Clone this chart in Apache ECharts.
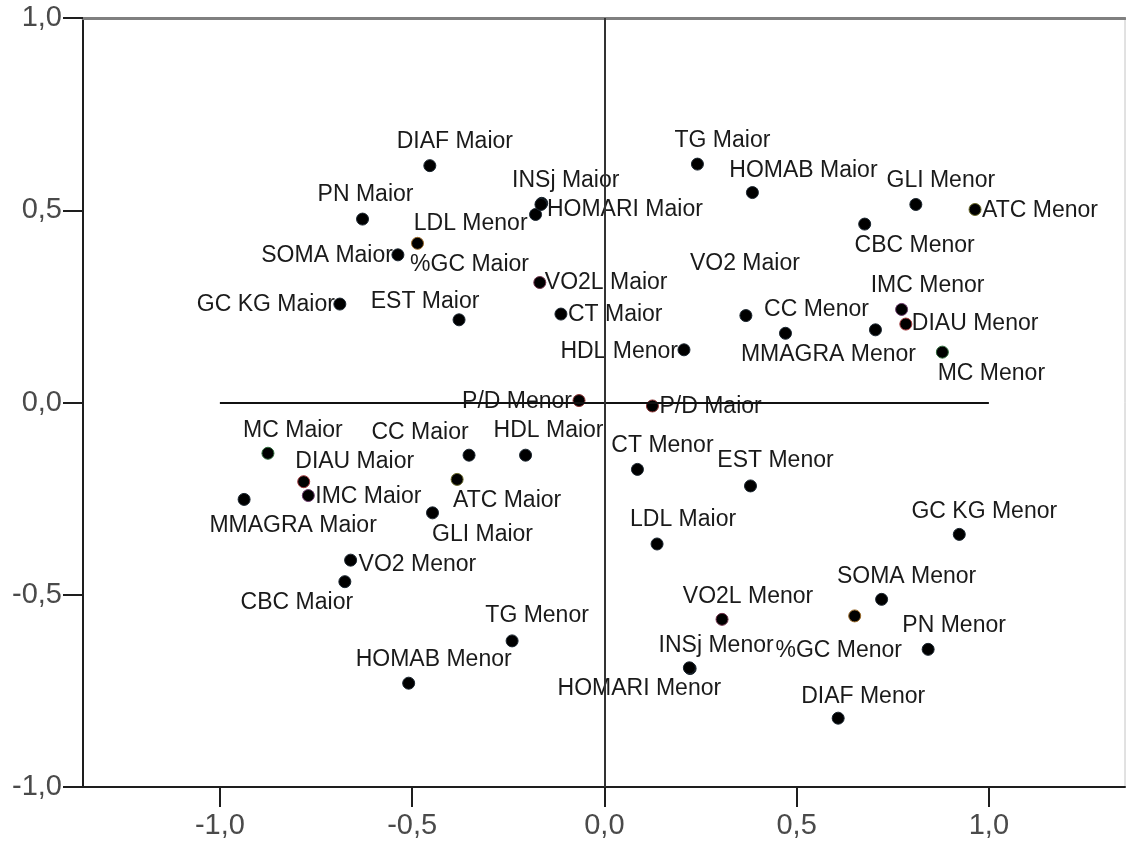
<!DOCTYPE html>
<html>
<head>
<meta charset="utf-8">
<title>Mapa de correspondência</title>
<script src="https://cdn.jsdelivr.net/npm/echarts@6.0.0/dist/echarts.min.js"></script>
<style>
  html, body { margin: 0; padding: 0; background: #fff; }
  #chart { width: 1126px; height: 844px; }
</style>
</head>
<body>
<div id="chart"></div>
<script>
// dados (dimensão 1 x dimensão 2)
const pointNames = [
  'DIAF Maior', 'PN Maior', 'SOMA Maior', '%GC Maior', 'LDL Menor', 'INSj Maior',
  'HOMARI Maior', 'VO2L Maior', 'EST Maior', 'CT Maior', 'HDL Menor', 'TG Maior',
  'HOMAB Maior', 'VO2 Maior', 'CC Menor', 'MMAGRA Menor', 'GLI Menor', 'ATC Menor',
  'CBC Menor', 'IMC Menor', 'DIAU Menor', 'MC Menor', 'GC KG Maior', 'P/D Menor',
  'P/D Maior', 'MC Maior', 'DIAU Maior', 'IMC Maior', 'MMAGRA Maior', 'VO2 Menor',
  'CBC Maior', 'CC Maior', 'HDL Maior', 'ATC Maior', 'GLI Maior', 'TG Menor',
  'HOMAB Menor', 'CT Menor', 'EST Menor', 'LDL Maior', 'VO2L Menor', 'INSj Menor',
  'HOMARI Menor', '%GC Menor', 'SOMA Menor', 'PN Menor', 'GC KG Menor', 'DIAF Menor'
]
const xValues = [
  -0.454, -0.629, -0.537, -0.486, -0.179, -0.163,
  -0.165, -0.168, -0.378, -0.113, 0.207, 0.242,
  0.385, 0.368, 0.471, 0.705, 0.810, 0.964,
  0.677, 0.773, 0.784, 0.879, -0.688, -0.066,
  0.125, -0.875, -0.782, -0.770, -0.937, -0.660,
  -0.675, -0.352, -0.205, -0.383, -0.447, -0.240,
  -0.509, 0.086, 0.380, 0.137, 0.306, 0.223,
  0.221, 0.651, 0.721, 0.842, 0.923, 0.608
]
const yValues = [
  0.616, 0.477, 0.384, 0.414, 0.489, 0.518,
  0.515, 0.312, 0.215, 0.230, 0.137, 0.620,
  0.546, 0.226, 0.180, 0.189, 0.515, 0.502,
  0.464, 0.242, 0.204, 0.131, 0.256, 0.005,
  -0.009, -0.132, -0.206, -0.242, -0.252, -0.410,
  -0.466, -0.137, -0.137, -0.200, -0.287, -0.620,
  -0.730, -0.174, -0.217, -0.368, -0.564, -0.692,
  -0.690, -0.555, -0.512, -0.642, -0.343, -0.821
]
const tickValues = [-1, -0.5, 0, 0.5, 1]
// linhas de referência: [x1, y1, x2, y2]
const refLines = [[-1, 0, 1, 0], [0, -1, 0, 1]]

// onde o rótulo fica em relação ao ponto: [dx, dy, alinhamento]
const labelPlace = {
  'DIAF Maior': [25, -24, 'center'],
  'PN Maior': [3, -24, 'center'],
  'SOMA Maior': [-5, 1, 'right'],
  '%GC Maior': [52, 21, 'center'],
  'LDL Menor': [-8, 9, 'right'],
  'INSj Maior': [24, -23, 'center'],
  'HOMARI Maior': [6, 5, 'left'],
  'VO2L Maior': [5, 0, 'left'],
  'EST Maior': [-34, -18, 'center'],
  'CT Maior': [7, 1, 'left'],
  'HDL Menor': [-6, 2, 'right'],
  'TG Maior': [25, -23, 'center'],
  'HOMAB Maior': [51, -22, 'center'],
  'VO2 Maior': [-1, -52, 'center'],
  'CC Menor': [31, -24, 'center'],
  'MMAGRA Menor': [-47, 25, 'center'],
  'GLI Menor': [25, -24, 'center'],
  'ATC Menor': [7, 1, 'left'],
  'CBC Menor': [50, 22, 'center'],
  'IMC Menor': [26, -24, 'center'],
  'DIAU Menor': [6, 0, 'left'],
  'MC Menor': [49, 22, 'center'],
  'GC KG Maior': [-5, 1, 'right'],
  'P/D Menor': [-7, 1, 'right'],
  'P/D Maior': [7, 1, 'left'],
  'MC Maior': [25, -23, 'center'],
  'DIAU Maior': [51, -20, 'center'],
  'IMC Maior': [7, 1, 'left'],
  'MMAGRA Maior': [49, 26, 'center'],
  'VO2 Menor': [8, 5, 'left'],
  'CBC Maior': [-48, 21, 'center'],
  'CC Maior': [-49, -23, 'center'],
  'HDL Maior': [23, -25, 'center'],
  'ATC Maior': [50, 21, 'center'],
  'GLI Maior': [50, 22, 'center'],
  'TG Menor': [25, -25, 'center'],
  'HOMAB Menor': [25, -24, 'center'],
  'CT Menor': [25, -24, 'center'],
  'EST Menor': [25, -25, 'center'],
  'LDL Maior': [26, -24, 'center'],
  'VO2L Menor': [26, -23, 'center'],
  'INSj Menor': [26, -23, 'center'],
  'HOMARI Menor': [-50, 21, 'center'],
  '%GC Menor': [-16, 35, 'center'],
  'SOMA Menor': [25, -23, 'center'],
  'PN Menor': [26, -24, 'center'],
  'GC KG Menor': [25, -23, 'center'],
  'DIAF Menor': [25, -22, 'center']
}

// contorno fraco colorido de alguns pontos
const ringColor = {
  '%GC': '#9a6a2a', 'DIAU': '#a0353a', 'MC': '#2f6a3a', 'IMC': '#6a3a6a',
  'ATC': '#6a6a2a', 'VO2L': '#70304a', 'P/D': '#8a3030'
}

const FONT = "'Liberation Sans', Arial, sans-serif"
const fmt = (v) => v.toFixed(1).replace('.', ',')

const points = pointNames.map((name, i) => {
  const p = labelPlace[name] || [0, -20, 'center']
  const variable = name.replace(/ (Maior|Menor)$/, '')
  return {
    name: name,
    value: [xValues[i], yValues[i]],
    itemStyle: { borderColor: ringColor[variable] || '#1b2630' },
    label: { offset: [p[0], p[1]], align: p[2] }
  }
})

const chart = echarts.init(document.getElementById('chart'))

chart.setOption({
  animation: false,
  grid: {
    left: 83, right: 1, top: 18, bottom: 57,
    show: true, borderColor: '#c4c4c4', borderWidth: 1, backgroundColor: '#fff'
  },
  xAxis: [
    {
      type: 'value',
      min: -1.356,
      max: 1.354,
      splitLine: { show: false },
      axisLine: { onZero: false, lineStyle: { color: '#1e1e1e', width: 2 } },
      axisTick: { show: true, length: 20, customValues: tickValues, lineStyle: { color: '#1e1e1e', width: 2 } },
      axisLabel: {
        customValues: tickValues,
        margin: 24,
        fontSize: 29,
        fontFamily: FONT,
        color: '#4a4a4a',
        formatter: fmt
      }
    },
    {
      // só a borda superior, cinza
      type: 'value',
      position: 'top',
      min: -1.356,
      max: 1.354,
      splitLine: { show: false },
      axisLine: { show: true, onZero: false, lineStyle: { color: '#808080', width: 3 } },
      axisTick: { show: false },
      axisLabel: { show: false }
    }
  ],
  yAxis: {
    type: 'value',
    min: -1,
    max: 1,
    interval: 0.5,
    splitLine: { show: false },
    axisLine: { onZero: false, lineStyle: { color: '#1e1e1e', width: 2 } },
    axisTick: { length: 20, lineStyle: { color: '#1e1e1e', width: 2 } },
    axisLabel: {
      margin: 21,
      fontSize: 29,
      fontFamily: FONT,
      color: '#4a4a4a',
      formatter: fmt
    }
  },
  series: [
    {
      type: 'scatter',
      symbolSize: 12,
      data: [],
      z: 1,
      markLine: {
        silent: true,
        symbol: 'none',
        label: { show: false },
        lineStyle: { type: 'solid', width: 2 },
        data: refLines.map((l, i) => [
          { coord: [l[0], l[1]], lineStyle: { color: i === 0 ? '#111' : '#333' } },
          { coord: [l[2], l[3]] }
        ])
      }
    },
    {
      type: 'scatter',
      symbol: 'circle',
      symbolSize: 12,
      z: 3,
      itemStyle: { color: '#000', borderWidth: 1, opacity: 1 },
      label: {
        show: true,
        position: 'inside',
        formatter: '{b}',
        verticalAlign: 'middle',
        fontSize: 23,
        fontFamily: FONT,
        color: '#1a1a1a'
      },
      emphasis: { disabled: true },
      data: points
    }
  ]
})
</script>
</body>
</html>
